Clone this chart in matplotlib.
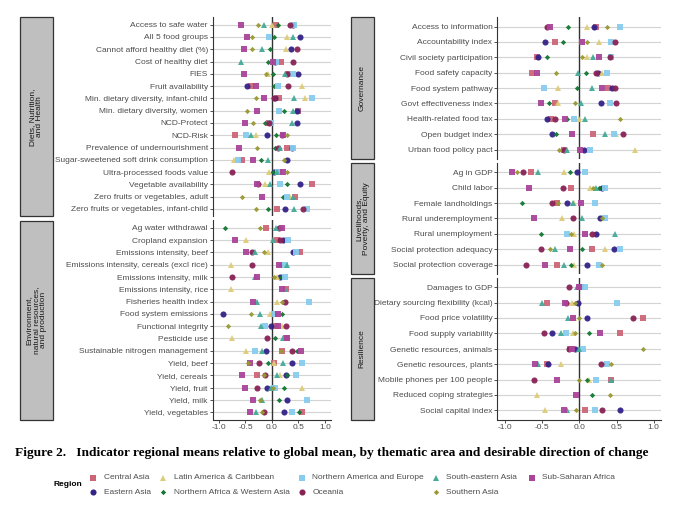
import numpy as np
import matplotlib
matplotlib.use('Agg')
import matplotlib.pyplot as plt
from matplotlib.patches import Rectangle

plt.rcParams['font.family'] = ['Liberation Sans', 'DejaVu Sans']

nan = np.nan

regions = ['Central Asia', 'Eastern Asia', 'Latin America & Caribbean',
           'Northern Africa & Western Asia', 'Northern America and Europe',
           'Oceania', 'South-eastern Asia', 'Sub-Saharan Africa', 'Southern Asia']
colors = ['#CC6677', '#332288', '#DDCC77', '#117733', '#88CCEE',
          '#882255', '#44AA99', '#AA4499', '#999933']
markers = ['s', 'o', '^', 'D', 's', 'o', '^', 's', 'D']
msizes = [4.1, 4.4, 4.8, 2.7, 4.1, 4.4, 4.8, 4.1, 2.7]
legend_order = ['Central Asia', 'Eastern Asia', 'Latin America & Caribbean',
                'Northern Africa & Western Asia', 'Northern America and Europe',
                'Oceania', 'South-eastern Asia', 'Southern Asia', 'Sub-Saharan Africa']

# value columns follow the order of `regions`
diet_rows = ['Access to safe water', 'All 5 food groups', 'Cannot afford healthy diet (%)',
             'Cost of healthy diet', 'FIES', 'Fruit availability',
             'Min. dietary diversity, infant-child', 'Min. dietary diversity, women',
             'NCD-Protect', 'NCD-Risk', 'Prevalence of undernourishment',
             'Sugar-sweetened soft drink consumption', 'Ultra-processed foods value',
             'Vegetable availability', 'Zero fruits or vegetables, adult',
             'Zero fruits or vegetables, infant-child']
diet_vals = [
    [0.08, 0.39, 0.00, 0.12, 0.42, 0.34, -0.16, -0.59, -0.26],
    [nan, 0.52, 0.29, 0.04, -0.05, nan, 0.40, -0.48, -0.37],
    [nan, 0.35, 0.26, -0.03, nan, 0.47, -0.19, -0.53, -0.37],
    [0.17, 0.06, nan, -0.07, 0.08, 0.40, -0.58, 0.01, nan],
    [0.30, 0.50, -0.08, 0.01, 0.40, 0.29, 0.25, -0.53, -0.12],
    [-0.40, -0.47, 0.56, 0.03, 0.11, 0.31, nan, -0.30, nan],
    [0.14, 0.06, 0.62, nan, 0.75, 0.03, 0.42, -0.16, -0.30],
    [0.50, 0.48, nan, 0.23, 0.14, nan, 0.39, -0.29, -0.47],
    [-0.05, 0.47, nan, -0.13, -0.01, -0.05, 0.38, -0.50, -0.36],
    [-0.70, -0.09, -0.31, 0.08, -0.49, 0.19, -0.40, 0.20, 0.29],
    [0.29, 0.38, nan, 0.06, 0.40, 0.12, 0.16, -0.63, -0.29],
    [-0.56, 0.28, -0.71, -0.21, -0.64, nan, -0.07, -0.35, 0.23],
    [0.14, 0.04, -0.05, 0.02, 0.12, -0.75, 0.09, 0.21, 0.28],
    [0.75, 0.52, -0.14, 0.28, 0.16, -0.27, -0.03, -0.28, nan],
    [0.44, nan, 0.34, 0.20, 0.29, nan, 0.40, -0.18, -0.57],
    [0.09, 0.25, nan, -0.08, 0.67, 0.58, 0.42, nan, -0.31],
]

env_rows = ['Ag water withdrawal', 'Cropland expansion', 'Emissions intensity, beef',
            'Emissions intensity, cereals (excl rice)', 'Emissions intensity, milk',
            'Emissions intensity, rice', 'Fisheries health index', 'Food system emissions',
            'Functional integrity', 'Pesticide use', 'Sustainable nitrogen management',
            'Yield, beef', 'Yield, cereals', 'Yield, fruit', 'Yield, milk', 'Yield, vegetables']
env_vals = [
    [-0.12, nan, nan, -0.89, nan, 0.14, 0.07, 0.18, -0.23],
    [0.10, 0.21, -0.49, nan, 0.31, 0.15, 0.01, -0.69, nan],
    [0.52, 0.39, -0.07, nan, 0.45, -0.37, -0.33, -0.49, -0.15],
    [nan, nan, -0.77, 0.17, 0.25, -0.37, 0.28, 0.13, nan],
    [nan, 0.15, 0.09, 0.17, 0.25, -0.76, -0.32, -0.28, 0.04],
    [0.26, nan, -0.77, nan, nan, nan, 0.25, 0.18, nan],
    [nan, nan, 0.10, nan, 0.69, 0.25, -0.29, -0.35, 0.18],
    [nan, -0.92, -0.04, 0.18, 0.04, nan, -0.23, 0.12, -0.40],
    [0.08, -0.01, 0.19, nan, -0.13, 0.26, -0.21, 0.11, -0.83],
    [0.26, nan, -0.75, 0.06, nan, -0.10, 0.21, 0.29, nan],
    [0.18, -0.11, -0.49, 0.47, -0.32, 0.37, -0.18, 0.55, 0.17],
    [0.04, 0.37, 0.04, -0.07, 0.57, -0.25, 0.20, -0.42, -0.45],
    [-0.29, 0.26, 0.15, 0.28, 0.45, -0.14, 0.09, -0.56, -0.16],
    [nan, -0.10, 0.57, 0.23, 0.06, -0.29, -0.01, -0.51, 0.01],
    [nan, 0.29, -0.18, 0.14, 0.67, nan, -0.19, -0.35, -0.23],
    [0.56, 0.23, nan, 0.51, 0.38, -0.16, -0.30, -0.42, -0.18],
]

gov_rows = ['Access to information', 'Accountability index', 'Civil society participation',
            'Food safety capacity', 'Food system pathway', 'Govt effectiveness index',
            'Health-related food tax', 'Open budget index', 'Urban food policy pact']
gov_vals = [
    [0.23, 0.20, 0.10, -0.15, 0.54, -0.44, nan, -0.39, 0.37],
    [-0.32, -0.46, 0.27, -0.22, 0.43, 0.48, nan, 0.04, 0.10],
    [-0.57, -0.55, 0.10, -0.43, 0.43, 0.41, 0.18, 0.27, 0.03],
    [-0.63, 0.25, 0.30, 0.09, 0.37, 0.23, -0.02, -0.57, -0.31],
    [0.39, 0.44, -0.28, -0.03, -0.47, 0.48, 0.17, 0.30, nan],
    [-0.33, 0.29, -0.28, -0.41, 0.41, 0.49, 0.02, -0.51, -0.06],
    [-0.38, -0.44, -0.01, -0.17, -0.07, -0.32, 0.07, -0.19, 0.54],
    [0.19, -0.37, 0.49, -0.31, 0.47, 0.59, 0.34, -0.10, nan],
    [-0.21, 0.06, 0.75, nan, 0.14, -0.20, -0.17, 0.01, -0.27],
]

live_rows = ['Ag in GDP', 'Child labor', 'Female landholdings', 'Rural underemployment',
             'Rural unemployment', 'Social protection adequacy', 'Social protection coverage']
live_vals = [
    [-0.65, -0.03, -0.21, -0.13, 0.08, -0.75, -0.55, -0.90, -0.83],
    [-0.11, 0.31, 0.14, 0.27, 0.35, -0.22, 0.23, -0.67, 0.19],
    [-0.30, -0.16, -0.07, -0.77, 0.21, -0.36, -0.08, 0.02, -0.28],
    [nan, 0.28, -0.23, nan, 0.34, -0.08, 0.04, -0.61, 0.30],
    [nan, 0.22, -0.07, -0.52, -0.16, 0.17, 0.48, 0.07, -0.11],
    [0.17, 0.46, 0.35, 0.03, 0.54, -0.51, -0.33, -0.13, -0.40],
    [-0.30, 0.11, -0.07, -0.11, 0.27, -0.72, -0.21, -0.46, 0.30],
]

res_rows = ['Damages to GDP', 'Dietary sourcing flexibility (kcal)', 'Food price volatility',
            'Food supply variability', 'Genetic resources, animals', 'Genetic resources, plants',
            'Mobile phones per 100 people', 'Reduced coping strategies', 'Social capital index']
res_vals = [
    [0.02, nan, nan, nan, 0.07, -0.14, -0.03, 0.00, nan],
    [-0.43, -0.02, -0.10, nan, 0.51, -0.18, -0.50, -0.19, -0.06],
    [0.85, 0.11, -0.07, nan, nan, 0.72, -0.15, -0.09, -0.01],
    [0.54, -0.36, -0.09, 0.13, -0.18, -0.47, -0.25, 0.28, -0.06],
    [-0.13, -0.06, nan, nan, 0.05, -0.14, 0.00, -0.10, 0.86],
    [-0.44, -0.42, -0.25, nan, 0.37, 0.29, -0.56, -0.59, 0.43],
    [0.43, nan, 0.13, 0.10, 0.22, -0.61, 0.42, -0.30, 0.00],
    [nan, nan, -0.57, 0.17, nan, nan, nan, -0.05, 0.41],
    [0.07, 0.54, -0.46, nan, 0.21, 0.31, -0.16, -0.21, -0.04],
]

xticks = [-1.0, -0.5, 0.0, 0.5, 1.0]

W, H = 680, 508
fig = plt.figure(figsize=(W / 100, H / 100), dpi=100)

# overlay in pixel coordinates for strips, caption and legend
over = fig.add_axes([0, 0, 1, 1], zorder=5)
over.set_xlim(0, W)
over.set_ylim(H, 0)
over.axis('off')

TEXT = '#4d4d4d'
DARK = '#333333'


def box(x0, y0, x1, y1):
    return [x0 / W, 1 - y1 / H, (x1 - x0) / W, (y1 - y0) / H]


def draw_column(panels, ax_x0, ax_x1, strip_x0, strip_x1, xlim):
    top, bottom, gap = 17.3, 419.5, 4.2
    units = sum(len(p[1]) + 0.2 for p in panels)
    u = (bottom - top - gap * (len(panels) - 1)) / units
    y0 = top
    for k, (title, rows, vals) in enumerate(panels):
        n = len(rows)
        h = (n + 0.2) * u
        ax = fig.add_axes(box(ax_x0, y0, ax_x1, y0 + h))
        v = np.array(vals, dtype=float)
        yy = np.arange(n)
        for y in yy:
            ax.axhline(y, color='#d3d3d3', lw=0.8, zorder=0)
        ax.axvline(0, color=DARK, lw=1.0, zorder=1)
        for j in range(len(regions)):
            ax.plot(v[:, j], yy, linestyle='none', marker=markers[j], ms=msizes[j],
                    color=colors[j], mew=0, alpha=0.95, zorder=2)
        ax.set_xlim(*xlim)
        ax.set_ylim(n - 0.4, -0.6)
        ax.set_yticks(yy)
        ax.set_yticklabels(rows)
        for s in ['top', 'right']:
            ax.spines[s].set_visible(False)
        ax.spines['left'].set_color(DARK)
        ax.spines['left'].set_linewidth(0.8)
        ax.tick_params(axis='y', length=2, width=0.6, color=DARK, labelsize=6,
                       labelcolor=TEXT, pad=1.5)
        if k == len(panels) - 1:
            ax.spines['bottom'].set_color(DARK)
            ax.spines['bottom'].set_linewidth(0.8)
            ax.set_xticks(xticks)
            ax.set_xticklabels(['%.1f' % t for t in xticks])
            ax.tick_params(axis='x', length=2, width=0.6, color=DARK, labelsize=6,
                           labelcolor=TEXT, pad=1.5)
        else:
            ax.spines['bottom'].set_visible(False)
            ax.set_xticks([])
        ax.set_facecolor('white')
        # strip
        over.add_patch(Rectangle((strip_x0, y0), strip_x1 - strip_x0, h,
                                 facecolor='#bfbfbf', edgecolor=DARK, lw=0.9))
        over.text((strip_x0 + strip_x1) / 2, y0 + h / 2, title, rotation=90,
                  ha='center', va='center', fontsize=6, color='#1a1a1a',
                  multialignment='center', linespacing=1.1)
        y0 += h + gap


draw_column([('Diets, Nutrition,\nand Health', diet_rows, diet_vals),
             ('Environment,\nnatural resources,\nand production', env_rows, env_vals)],
            212.7, 330.7, 19.5, 52.7, (-1.119, 1.108))
draw_column([('Governance', gov_rows, gov_vals),
             ('Livelihoods,\nPoverty, and Equity', live_rows, live_vals),
             ('Resilience', res_rows, res_vals)],
            497.3, 660.7, 350.7, 374.0, (-1.101, 1.093))

# caption, scaled to the reference width
cap = over.text(15, 452.7, 'Figure 2.   Indicator regional means relative to global mean, '
                'by thematic area and desirable direction of change',
                family=['Liberation Serif', 'DejaVu Serif'], weight='bold',
                fontsize=10, ha='left', va='center', color='black')
fig.canvas.draw()
wpx = cap.get_window_extent().width
cap.set_fontsize(10 * 637 / wpx)

# legend, filled column by column as in the reference
over.text(53.3, 485, 'Region', fontsize=6, weight='bold', color='black',
          ha='left', va='center')
leg_cols = [93.3, 163.3, 301.7, 435.7, 531.7]
leg_rows = [477.7, 492.3]
for i, name in enumerate(legend_order):
    j = regions.index(name)
    cx = leg_cols[i // 2]
    cy = leg_rows[i % 2]
    over.plot([cx], [cy], linestyle='none', marker=markers[j], ms=msizes[j],
              color=colors[j], mew=0)
    over.text(cx + 10.7, cy, name, fontsize=6, color=TEXT, ha='left', va='center')

fig.savefig('out.png', dpi=100, facecolor='white')
